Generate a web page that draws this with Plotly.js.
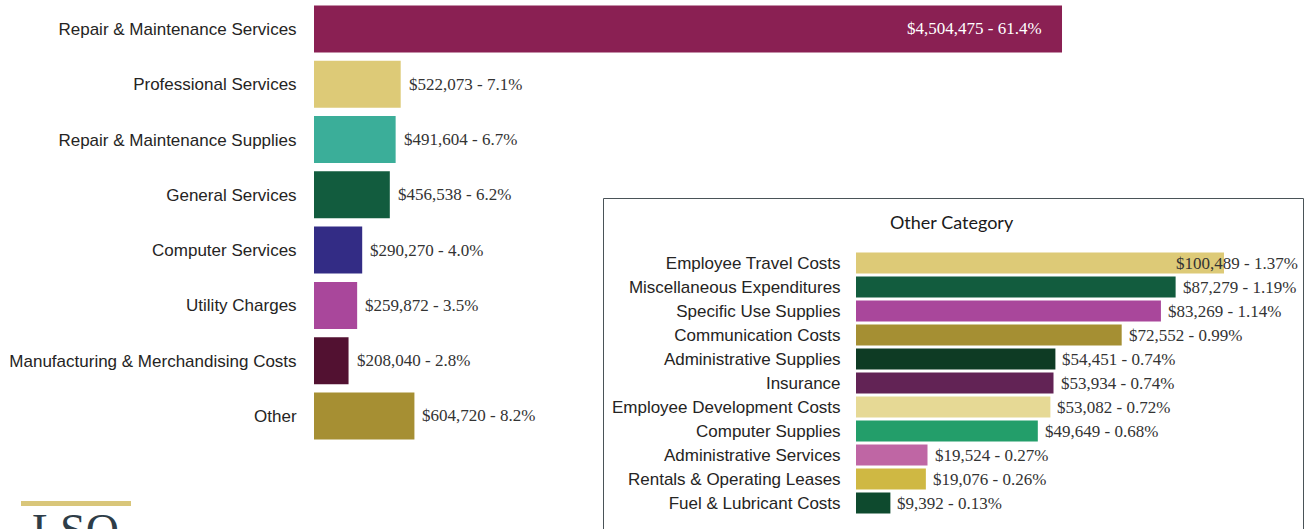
<!DOCTYPE html>
<html><head><meta charset="utf-8">
<script src="https://cdn.plot.ly/plotly-3.0.1.min.js"></script>
<style>html,body{margin:0;padding:0;background:#fff}#chart{width:1305px;height:529px}</style>
</head><body><div id="chart"></div>
<script>
const mainCategories = ["Repair & Maintenance Services","Professional Services","Repair & Maintenance Supplies","General Services","Computer Services","Utility Charges","Manufacturing & Merchandising Costs","Other"];
const mainValues = [4504475,522073,491604,456538,290270,259872,208040,604720];
const mainPct = [61.4,7.1,6.7,6.2,4.0,3.5,2.8,8.2];
const mainColors = ["#8A2053","#DDCA77","#3BAE99","#125C3E","#332C85","#A9479B","#521131","#A68F33"];

const otherCategories = ["Employee Travel Costs","Miscellaneous Expenditures","Specific Use Supplies","Communication Costs","Administrative Supplies","Insurance","Employee Development Costs","Computer Supplies","Administrative Services","Rentals & Operating Leases","Fuel & Lubricant Costs"];
const otherValues = [100489,87279,83269,72552,54451,53934,53082,49649,19524,19076,9392];
const otherPct = [1.37,1.19,1.14,0.99,0.74,0.74,0.72,0.68,0.27,0.26,0.13];
const otherColors = ["#DDCA77","#125C3E","#A9479B","#A58F33","#0E3B24","#622355","#E6D995","#239E6A","#BF66A4","#CFB843","#0E4A2E"];

const W = 1305, H = 529;
const fmt = (v) => "$" + v.toLocaleString("en-US");
const labelFont = {family: "Liberation Serif, Times New Roman, serif", size: 17, color: "#333333"};

const traces = [
  {type: "bar", orientation: "h", x: mainValues, y: mainCategories, marker: {color: mainColors},
   width: 0.85, xaxis: "x", yaxis: "y", hoverinfo: "none", textposition: "none"},
  {type: "bar", orientation: "h", x: otherValues, y: otherCategories, marker: {color: otherColors},
   width: 0.875, xaxis: "x2", yaxis: "y2", hoverinfo: "none", textposition: "none"}
];

const annotations = [];
mainValues.forEach((v, i) => {
  const t = fmt(v) + " - " + mainPct[i].toFixed(1) + "%";
  if (i === 0) {
    annotations.push({xref: "x", yref: "y", x: v, y: mainCategories[i], text: t, showarrow: false,
      xanchor: "right", xshift: -18, font: Object.assign({}, labelFont, {color: "#ffffff"})});
  } else {
    annotations.push({xref: "x", yref: "y", x: v, y: mainCategories[i], text: t, showarrow: false,
      xanchor: "left", xshift: 6, font: labelFont});
  }
});
otherValues.forEach((v, i) => {
  const t = fmt(v) + " - " + otherPct[i].toFixed(2) + "%";
  if (i === 0) {
    annotations.push({xref: "x2 domain", yref: "y2", x: 1, y: otherCategories[i], text: t, showarrow: false,
      xanchor: "right", xshift: 1, font: labelFont});
  } else {
    annotations.push({xref: "x2", yref: "y2", x: v, y: otherCategories[i], text: t, showarrow: false,
      xanchor: "left", xshift: 5, font: labelFont});
  }
});
annotations.push({xref: "paper", yref: "paper", x: 952/W, y: 1 - 222/H, text: "Other Category", showarrow: false,
  xanchor: "center", yanchor: "middle", font: {family: "Lato, sans-serif", size: 18, color: "#1a1a1a"}});
annotations.push({xref: "paper", yref: "paper", x: 30/W, y: 1 - 503/H, text: "LSO", showarrow: false,
  xanchor: "left", yanchor: "top", font: {family: "Liberation Serif, serif", size: 46, color: "#2E3D48"}});

const layout = {
  width: W, height: H,
  margin: {l: 0, r: 0, t: 0, b: 0},
  paper_bgcolor: "#ffffff", plot_bgcolor: "rgba(0,0,0,0)",
  showlegend: false,
  xaxis: {domain: [314/W, 1300/W], range: [0, 986/1.6606e-4], visible: false, fixedrange: true},
  yaxis: {domain: [1 - 443.6/H, 1 - 1.35/H], autorange: "reversed", type: "category",
    showgrid: false, zeroline: false, showline: false, ticks: "outside", ticklen: 13, tickcolor: "rgba(0,0,0,0)",
    tickfont: {family: "Liberation Sans, Arial, sans-serif", size: 17, color: "#252423"}},
  xaxis2: {domain: [856/W, 1299/W], range: [0, 443/3.662e-3], visible: false, anchor: "y2", fixedrange: true},
  yaxis2: {domain: [1 - 515/H, 1 - 251/H], autorange: "reversed", type: "category", anchor: "x2",
    showgrid: false, zeroline: false, showline: false, ticks: "outside", ticklen: 11, tickcolor: "rgba(0,0,0,0)",
    tickfont: {family: "Liberation Sans, Arial, sans-serif", size: 17, color: "#252423"}},
  shapes: [
    {type: "rect", xref: "paper", yref: "paper", x0: 603.5/W, x1: 1303.5/W, y0: -0.05, y1: 1 - 198.5/H,
     line: {color: "#4A5358", width: 1}, fillcolor: "rgba(0,0,0,0)", layer: "below"},
    {type: "rect", xref: "paper", yref: "paper", x0: 21/W, x1: 131/W, y0: 1 - 506/H, y1: 1 - 501/H,
     line: {width: 0}, fillcolor: "#D9C67A"}
  ],
  annotations: annotations
};

Plotly.newPlot("chart", traces, layout, {displayModeBar: false, staticPlot: true});
</script></body></html>
